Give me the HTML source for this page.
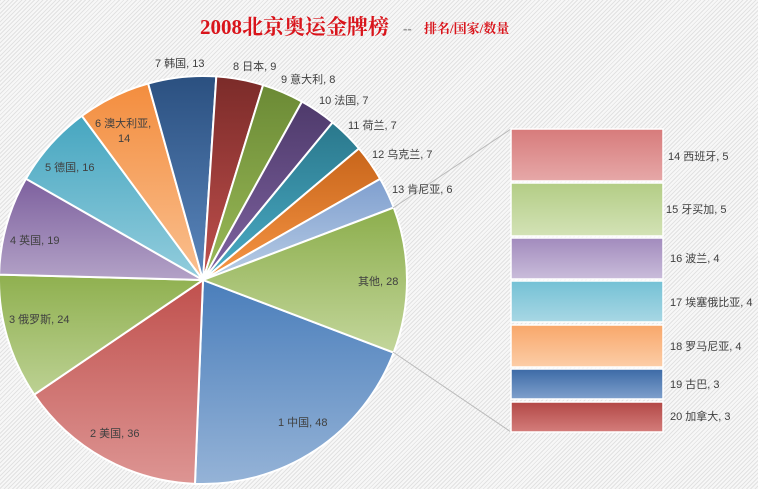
<!DOCTYPE html>
<html><head><meta charset="utf-8"><style>
html,body{margin:0;padding:0}
body{width:758px;height:489px;overflow:hidden;background:#f4f4f4;background-image:repeating-linear-gradient(135deg,#e2e2e2 0 1px,#f7f7f7 1px 3px);font-family:"Liberation Sans","Noto Sans CJK SC",sans-serif}
svg{position:absolute;left:0;top:0}
</style></head><body>
<svg id="s" width="758" height="489" xmlns="http://www.w3.org/2000/svg">
<defs id="d"></defs>
<g id="pie"></g>
<line x1="393" y1="208" x2="511" y2="129" stroke="#bbb" stroke-width="1"/>
<line x1="393" y1="352" x2="511" y2="432" stroke="#bbb" stroke-width="1"/>
<g id="bars"></g>
<text x="200" y="34" font-family="Liberation Serif,Noto Serif CJK SC,serif" font-weight="bold" font-size="21" fill="#d9141b">2008北京奥运金牌榜</text>
<text x="403" y="33" font-size="13" fill="#999" font-weight="bold">--</text>
<text x="424" y="33" font-family="Liberation Serif,Noto Serif CJK SC,serif" font-size="13" font-weight="bold" fill="#d9141b">排名/国家/数量</text>
<g font-size="11" fill="#404040" dominant-baseline="middle">
<text x="155" y="64">7 韩国, 13</text>
<text x="233" y="67">8 日本, 9</text>
<text x="281" y="80">9 意大利, 8</text>
<text x="319" y="101">10 法国, 7</text>
<text x="348" y="126">11 荷兰, 7</text>
<text x="372" y="155">12 乌克兰, 7</text>
<text x="392" y="190">13 肯尼亚, 6</text>
<text x="358" y="282">其他, 28</text>
<text x="278" y="423">1 中国, 48</text>
<text x="90" y="434">2 美国, 36</text>
<text x="9" y="320">3 俄罗斯, 24</text>
<text x="10" y="241">4 英国, 19</text>
<text x="45" y="168">5 德国, 16</text>
<text x="95" y="124">6 澳大利亚,</text>
<text x="118" y="139">14</text>
<text x="668" y="157">14 西班牙, 5</text>
<text x="666" y="210">15 牙买加, 5</text>
<text x="670" y="259">16 波兰, 4</text>
<text x="670" y="303">17 埃塞俄比亚, 4</text>
<text x="670" y="347">18 罗马尼亚, 4</text>
<text x="670" y="385">19 古巴, 3</text>
<text x="670" y="417">20 加拿大, 3</text>
</g>
</svg>
<script>
var NS="http://www.w3.org/2000/svg",d=document.getElementById('d');
function grad(id,a,b){var g=document.createElementNS(NS,'linearGradient');g.setAttribute('id',id);g.setAttribute('x1','0');g.setAttribute('y1','0');g.setAttribute('x2','0');g.setAttribute('y2','1');
g.innerHTML='<stop offset="0" stop-color="'+a+'"/><stop offset="1" stop-color="'+b+'"/>';d.appendChild(g);return 'url(#'+id+')';}
var data=[[48,'#4a7ebb','#95b3d7'],[36,'#c0504d','#dd9593'],[24,'#8fb04f','#bcd193'],[19,'#7d609e','#b3a2c7'],[16,'#46a6c0','#93cddd'],[14,'#f38d3e','#fac090'],[13,'#2b5080','#5b87bd'],[9,'#7b2b29','#c0504d'],[8,'#6b8a35','#9bbb59'],[7,'#4e3a6b','#8064a2'],[7,'#2a788c','#4bacc6'],[7,'#c8651a','#f79646'],[6,'#7f9fcf','#b9cde5'],[28,'#8cae4c','#c3d69b']];
var cx=203,cy=280,r=204,tot=242,a=20.85*Math.PI/180,p=document.getElementById('pie');
data.forEach(function(s,i){var da=s[0]/tot*2*Math.PI,b=a+da;
var x1=cx+r*Math.cos(a),y1=cy+r*Math.sin(a),x2=cx+r*Math.cos(b),y2=cy+r*Math.sin(b);
var e=document.createElementNS(NS,'path');e.setAttribute('d','M'+cx+','+cy+'L'+x1+','+y1+'A'+r+','+r+' 0 '+(da>Math.PI?1:0)+' 1 '+x2+','+y2+'Z');
e.setAttribute('fill',grad('g'+i,s[1],s[2]));e.setAttribute('stroke','#fff');e.setAttribute('stroke-width','2');p.appendChild(e);a=b;});
var bars=[[129,181,'#d77b7b','#e6a8a8'],[183,236,'#b3cd85','#d3e2b6'],[238,279,'#a28bbd','#c9bcda'],[281,322,'#74c1d5','#a8d7e4'],[325,367,'#f8a76a','#fccda7'],[369,399,'#3c6aa6','#7fa0cc'],[402,432,'#b24846','#d47d7b']],bg=document.getElementById('bars');
bars.forEach(function(s,i){var e=document.createElementNS(NS,'rect');e.setAttribute('x',511);e.setAttribute('y',s[0]);e.setAttribute('width',152);e.setAttribute('height',s[1]-s[0]);
e.setAttribute('fill',grad('b'+i,s[2],s[3]));e.setAttribute('stroke','#fff');e.setAttribute('stroke-width','1.5');bg.appendChild(e);});
</script>
</body></html>
